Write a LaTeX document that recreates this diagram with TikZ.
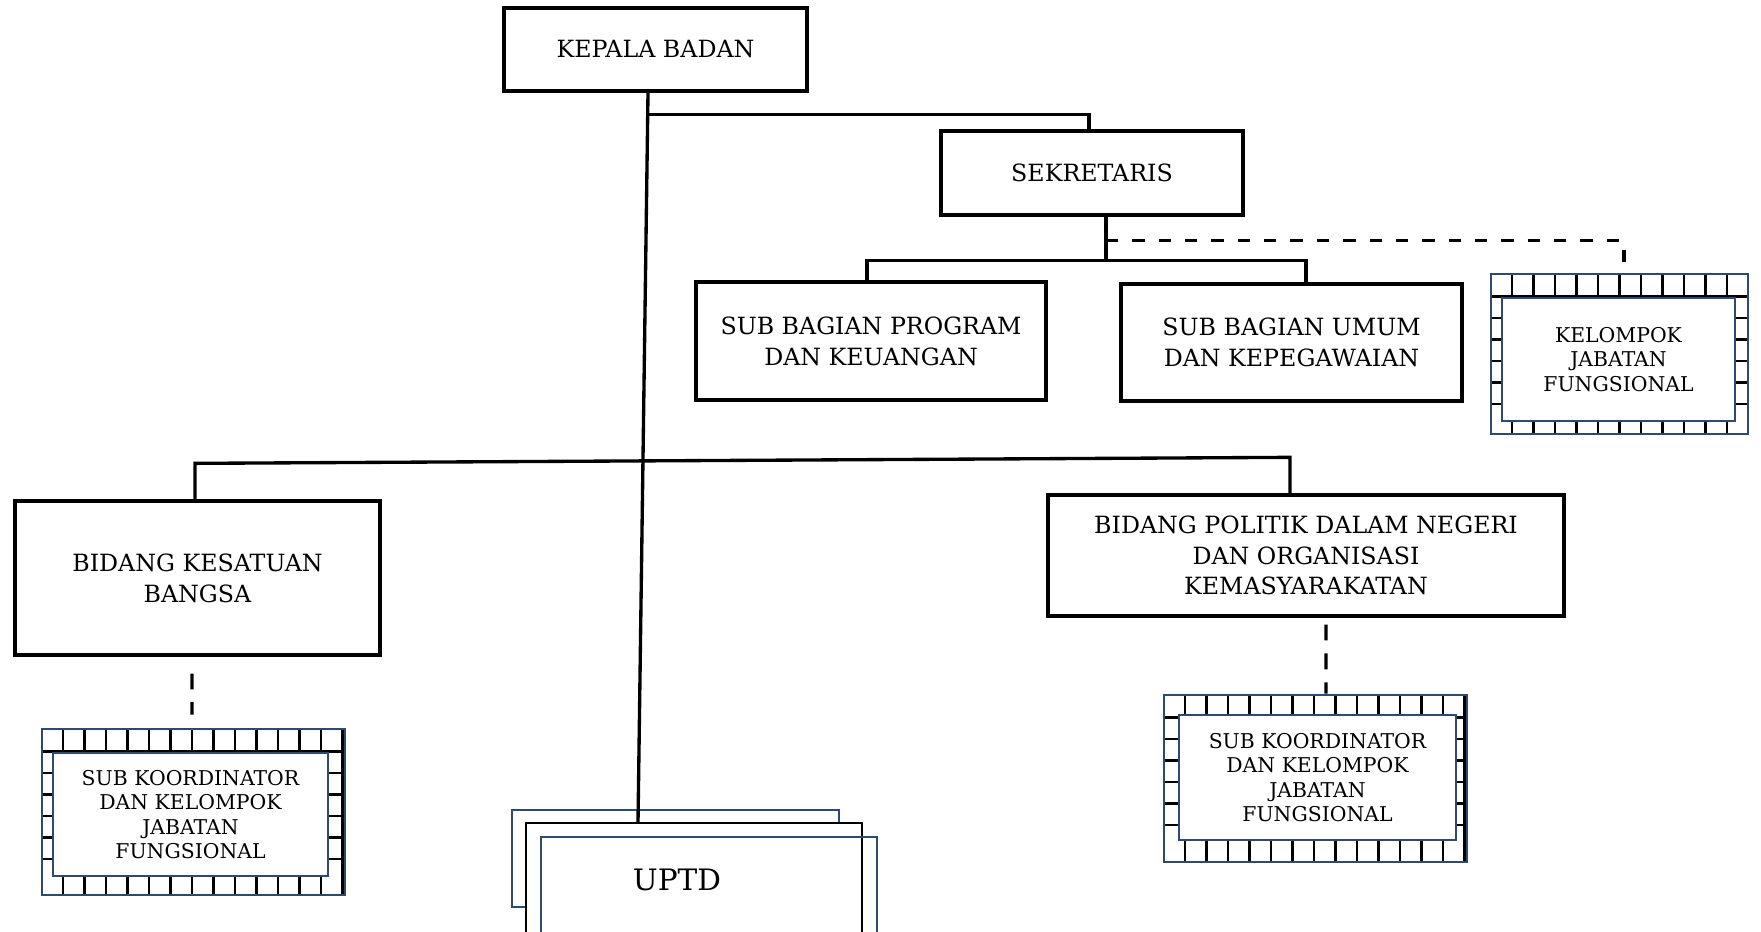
\documentclass[tikz,border=0pt]{standalone}
\usepackage{fontspec}
\setmainfont{DejaVu Serif}
\usepackage{tikz}
\usetikzlibrary{positioning, calc}
\definecolor{Navy}{rgb}{0.18,0.29,0.43}
\tikzstyle{unit}=[%
      rectangle, draw=black, line width=1.9pt, fill=white,
      align=center, inner sep=0pt, font=\fontsize{13.5}{17.5}\selectfont
]
\tikzstyle{jf}=[%
      rectangle, draw=Navy, line width=1.5pt, fill=white, inner sep=0pt,
      path picture={
        \foreach \i in {0,...,14}
          \draw[black, line width=1.5pt] ([xshift=0.42cm+\i*0.43cm]path picture bounding box.north west) -- ++(0,-4cm);
        \foreach \j in {0,...,5}
          \draw[black, line width=1.5pt] ([yshift=-0.45cm-\j*0.43cm]path picture bounding box.north west) -- ++(7cm,0);
      }
]
\tikzstyle{jfin}=[%
      rectangle, draw=Navy, line width=1.5pt, fill=white,
      align=center, inner sep=0pt, font=\fontsize{11.6}{14}\selectfont
]
\tikzstyle{upt}=[rectangle, draw=Navy, line width=1.3pt, inner sep=0pt]
\tikzstyle{link}=[draw=black, line width=1.9pt]

\begin{document}
\begin{tikzpicture}[x=0.02cm, y=-0.02cm, line join=miter]
  \useasboundingbox (0,0) rectangle (1761,932);

  % units
  \node[unit, minimum width=6.06cm, minimum height=1.66cm] (kepala) at (655.5,49.5) {KEPALA BADAN};
  \node[unit, minimum width=6.04cm, minimum height=1.68cm] (sekretaris) at (1092,173) {SEKRETARIS};
  \node[unit, minimum width=7.0cm, minimum height=2.36cm] (program) at (871,341) {SUB BAGIAN PROGRAM\\DAN KEUANGAN};
  \node[unit, minimum width=6.82cm, minimum height=2.34cm] (umum) at (1291.5,342.5) {SUB BAGIAN UMUM\\DAN KEPEGAWAIAN};
  \node[unit, minimum width=7.3cm, minimum height=3.08cm] (kesatuan) at (197.5,578) {BIDANG KESATUAN\\BANGSA};
  \node[unit, minimum width=10.32cm, minimum height=2.42cm] (politik) at (1306,555.5) {BIDANG POLITIK DALAM NEGERI\\DAN ORGANISASI\\KEMASYARAKATAN};

  % jabatan fungsional
  \node[jf, minimum width=5.14cm, minimum height=3.2cm] (kjf) at (1619.5,354) {};
  \node[jfin, minimum width=4.66cm, minimum height=2.46cm] (kjftext) at (1618.5,359.5) {KELOMPOK\\JABATAN\\FUNGSIONAL};
  \node[jf, minimum width=6.06cm, minimum height=3.32cm] (skl) at (193.5,812) {};
  \node[jfin, minimum width=5.5cm, minimum height=2.46cm] (skltext) at (190.5,814.5) {SUB KOORDINATOR\\DAN KELOMPOK\\JABATAN\\FUNGSIONAL};
  \node[jf, minimum width=6.06cm, minimum height=3.34cm] (skr) at (1315.5,778.5) {};
  \node[jfin, minimum width=5.54cm, minimum height=2.5cm] (skrtext) at (1317.5,777.5) {SUB KOORDINATOR\\DAN KELOMPOK\\JABATAN\\FUNGSIONAL};

  % uptd
  \node[upt, minimum width=6.54cm, minimum height=1.94cm] (uptdback) at (675.5,858.5) {};
  \node[upt, draw=black, fill=white, minimum width=6.72cm, minimum height=2.44cm] (uptd) at (694,884) {};
  \node[upt, minimum width=6.72cm, minimum height=2.16cm] (uptdfront) at (709,891) {};
  \node[font=\fontsize{16.8}{20}\selectfont] (uptdlabel) at (677,880) {UPTD};

  % lines
  \draw[link] ([xshift=-0.15cm]kepala.south) -- ([xshift=-1.12cm]uptd.north);
  \draw[link] ([xshift=-0.15cm,yshift=-0.44cm]kepala.south) -| ([xshift=-0.06cm]sekretaris.north);
  \draw[link] ([xshift=0.28cm]sekretaris.south) -- ++(0,-0.88cm);
  \draw[link] ([xshift=-0.08cm]program.north) |- ([xshift=0.28cm,yshift=-0.88cm]sekretaris.south) -| ([xshift=0.29cm]umum.north);
  \draw[link, dash pattern=on 7pt off 8pt] ([xshift=0.28cm,yshift=-0.48cm]sekretaris.south) -| ([xshift=0.09cm]kjf.north);
  \draw[link] ([xshift=-0.05cm]kesatuan.north) -- ++(0,0.72cm) -- ([xshift=-0.32cm,yshift=0.72cm]politik.north) -- ([xshift=-0.32cm]politik.north);
  \draw[link, dash pattern=on 9pt off 7pt] ([xshift=-0.11cm,yshift=-0.34cm]kesatuan.south) -- ([xshift=-0.03cm,yshift=0.26cm]skl.north);
  \draw[link, dash pattern=on 9pt off 7.4pt] ([xshift=0.4cm,yshift=-0.14cm]politik.south) -- ([xshift=0.21cm]skr.north);
\end{tikzpicture}
\end{document}
